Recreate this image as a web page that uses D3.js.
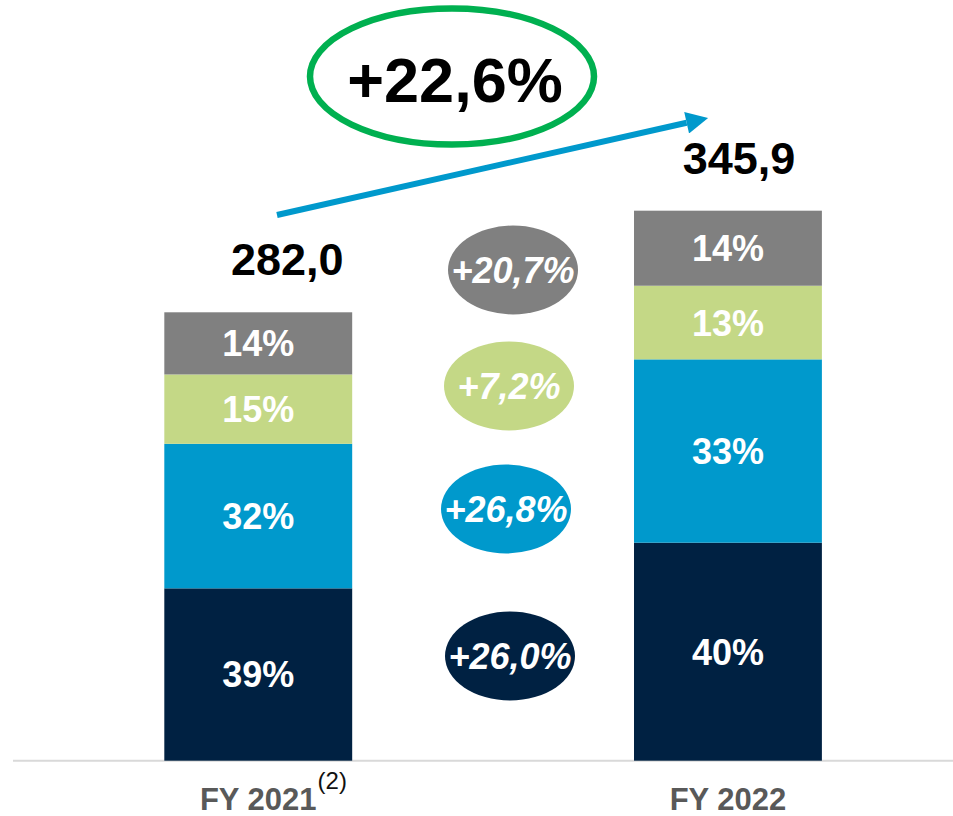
<!DOCTYPE html>
<html>
<head>
<meta charset="utf-8">
<script src="https://cdn.jsdelivr.net/npm/d3@7"></script>
<style>
  html, body { margin: 0; padding: 0; background: #ffffff; }
  svg { display: block; font-family: "Liberation Sans", Arial, sans-serif; }
</style>
</head>
<body>
<svg id="chart" width="953" height="816"></svg>
<script>
// ---- data ----
const categories = ["FY 2021", "FY 2022"];
const categoryNotes = ["(2)", ""];
const segmentKeys = ["dark", "blue", "green", "grey"];
const darkValues  = [108.4, 137.1];
const blueValues  = [90.9, 115.3];
const greenValues = [43.6, 46.3];
const greyValues  = [39.1, 47.2];
const darkShares  = ["39%", "40%"];
const blueShares  = ["32%", "33%"];
const greenShares = ["15%", "13%"];
const greyShares  = ["14%", "14%"];
const totalLabels = ["282,0", "345,9"];
const growthLabels = ["+26,0%", "+26,8%", "+7,2%", "+20,7%"]; // dark, blue, green, grey
const totalGrowth = "+22,6%";

// ---- styles ----
const colors = { dark: "#002142", blue: "#0099cc", green: "#c4d886", grey: "#808080" };
const svg = d3.select("#chart");

const rows = categories.map((c, i) => ({
  cat: c,
  dark: darkValues[i], blue: blueValues[i], green: greenValues[i], grey: greyValues[i],
  labels: { dark: darkShares[i], blue: blueShares[i], green: greenShares[i], grey: greyShares[i] }
}));

const x = d3.scaleBand().domain(categories).range([23.4, 962.8]).paddingInner(0.6).paddingOuter(0.3);
const y = d3.scaleLinear().domain([0, 478.4]).range([760.7, 0]);

const stacked = d3.stack().keys(segmentKeys)(rows);

// baseline
svg.append("line").attr("x1", 13).attr("x2", 953).attr("y1", y(0)).attr("y2", y(0))
  .attr("stroke", "#d9d9d9").attr("stroke-width", 2);

// bars
const layers = svg.append("g").selectAll("g").data(stacked).join("g")
  .attr("fill", d => colors[d.key]);
layers.selectAll("rect").data(d => d.map(p => ({ p, key: d.key }))).join("rect")
  .attr("x", d => x(d.p.data.cat))
  .attr("width", x.bandwidth())
  .attr("y", d => y(d.p[1]))
  .attr("height", d => y(d.p[0]) - y(d.p[1]));

// share labels
layers.selectAll("text").data(d => d.map(p => ({ p, key: d.key }))).join("text")
  .attr("x", d => x(d.p.data.cat) + x.bandwidth() / 2)
  .attr("y", d => (y(d.p[0]) + y(d.p[1])) / 2)
  .attr("dy", "0.36em")
  .attr("text-anchor", "middle")
  .attr("fill", "#ffffff")
  .attr("font-weight", "bold")
  .attr("font-size", 36)
  .text(d => d.p.data.labels[d.key]);

// totals
const totals = rows.map(r => segmentKeys.reduce((s, k) => s + r[k], 0));
const totalOffsets = [29, 11];
svg.append("g").selectAll("text").data(rows).join("text")
  .attr("x", (d, i) => x(d.cat) + x.bandwidth() / 2 + totalOffsets[i])
  .attr("y", (d, i) => y(totals[i]) - 37)
  .attr("text-anchor", "middle")
  .attr("font-weight", "bold")
  .attr("font-size", 45)
  .attr("fill", "#000000")
  .text((d, i) => totalLabels[i]);

// category labels
const catG = svg.append("g");
categories.forEach((c, i) => {
  const cx = x(c) + x.bandwidth() / 2;
  const t = catG.append("text")
    .attr("x", cx).attr("y", 810)
    .attr("text-anchor", "middle")
    .attr("font-weight", "bold")
    .attr("font-size", 31)
    .attr("fill", "#595959")
    .text(c);
  if (categoryNotes[i]) {
    const w = t.node().getComputedTextLength();
    catG.append("text")
      .attr("x", cx + w / 2 + 1).attr("y", 789)
      .attr("font-size", 24)
      .attr("fill", "#111111")
      .text(categoryNotes[i]);
  }
});

// growth bubbles (dark, blue, green, grey)
const bubbleLayout = [
  { cx: 510, cy: 656 }, { cx: 506, cy: 509 }, { cx: 509, cy: 386 }, { cx: 513, cy: 270 }
];
const bubbles = svg.append("g").selectAll("g").data(segmentKeys).join("g")
  .attr("transform", (k, i) => `translate(${bubbleLayout[i].cx},${bubbleLayout[i].cy})`);
bubbles.append("ellipse").attr("rx", 65).attr("ry", 44.5).attr("fill", k => colors[k]);
bubbles.append("text")
  .attr("text-anchor", "middle").attr("dy", "0.36em")
  .attr("fill", "#ffffff").attr("font-weight", "bold").attr("font-style", "italic")
  .attr("font-size", 36)
  .text((k, i) => growthLabels[i]);

// overall growth arrow
const defs = svg.append("defs");
defs.append("marker").attr("id", "arrowhead")
  .attr("viewBox", "0 0 10 10").attr("refX", 0).attr("refY", 5)
  .attr("markerUnits", "userSpaceOnUse")
  .attr("markerWidth", 26).attr("markerHeight", 22).attr("orient", "auto")
  .append("path").attr("d", "M0,0 L10,5 L0,10 Z").attr("fill", "#0099cc");
const x0 = 277, y0 = 215, x1 = 712, y1 = 117;
const ang = Math.atan2(y1 - y0, x1 - x0);
svg.append("line")
  .attr("x1", x0).attr("y1", y0)
  .attr("x2", x1 - 26 * Math.cos(ang)).attr("y2", y1 - 26 * Math.sin(ang))
  .attr("stroke", "#0099cc").attr("stroke-width", 6)
  .attr("marker-end", "url(#arrowhead)");

// overall growth ellipse
svg.append("ellipse").attr("cx", 452).attr("cy", 76.5).attr("rx", 142).attr("ry", 68)
  .attr("fill", "none").attr("stroke", "#00b050").attr("stroke-width", 6.5);
svg.append("text").attr("x", 455).attr("y", 102)
  .attr("text-anchor", "middle").attr("font-weight", "bold").attr("font-size", 63)
  .attr("fill", "#000000").text(totalGrowth);
</script>
</body>
</html>
